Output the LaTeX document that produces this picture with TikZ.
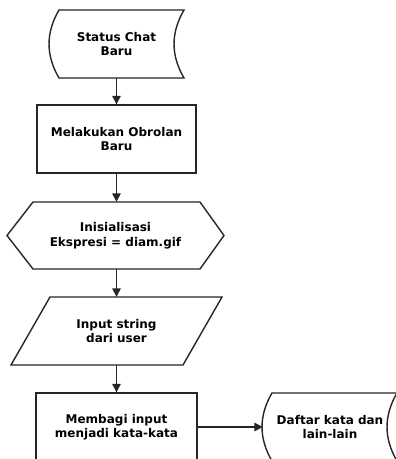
\documentclass[tikz,border=0pt]{standalone}
\usepackage{fontspec}
\setmainfont{DejaVu Sans}
\usetikzlibrary{arrows.meta}
\begin{document}
\begin{tikzpicture}[x=1pt,y=-1pt,
  line/.style={draw=black!85, line width=1.4pt},
  lbl/.style={font=\bfseries\fontsize{12}{14.5}\selectfont, align=center, text=black, inner sep=0pt},
  flow/.style={draw=black!85, line width=1.4pt, -{Triangle[length=8.5pt,width=8.5pt]}}]
\useasboundingbox (0,0) rectangle (396,459);
\clip (0,0) rectangle (396,459);
\fill[white] (0,0) rectangle (396,459);

% start: stored-data shape
\node[lbl, minimum width=135pt, minimum height=68pt] (s1) at (116.5,44) {Status Chat\\Baru};
\draw[line] (59,10) -- (184,10) .. controls (170.7,32.7) and (170.7,55.3) .. (184,78)
  -- (59,78) .. controls (45.7,55.3) and (45.7,32.7) .. (59,10) -- cycle;

% process box
\node[lbl, line, minimum width=159pt, minimum height=68pt] (b2) at (116.5,139) {Melakukan Obrolan\\Baru};

% preparation (hexagon)
\node[lbl, minimum width=217pt, minimum height=67pt] (h) at (115.5,235.5) {Inisialisasi\\Ekspresi = diam.gif};
\draw[line] (7,235.5) -- (33,202) -- (200,202) -- (224,235.5) -- (200,269) -- (33,269) -- cycle;

% input (parallelogram)
\node[lbl, minimum width=211pt, minimum height=68pt] (p) at (116.5,331) {Input string\\dari user};
\draw[line] (50,297) -- (222,297) -- (183,365) -- (11,365) -- cycle;

% process box
\node[lbl, line, minimum width=161pt, minimum height=68pt] (b5) at (116.5,427) {Membagi input\\menjadi kata-kata};

% stored-data shape on the right
\node[lbl, minimum width=134pt, minimum height=68pt] (d) at (330,427) {Daftar kata dan\\lain-lain};
\draw[line] (272,393) -- (397,393) .. controls (383.7,415.7) and (383.7,438.3) .. (397,461)
  -- (272,461) .. controls (258.7,438.3) and (258.7,415.7) .. (272,393) -- cycle;

% connectors
\draw[flow] (s1.south) -- (s1.south |- b2.north);
\draw[flow] (b2.south) -- (b2.south |- h.north);
\draw[flow] (b2.south |- h.south) -- (b2.south |- p.north);
\draw[flow] (p.south) -- (b5.north);
\draw[flow] (b5.east) -- (d.west);
\end{tikzpicture}
\end{document}
